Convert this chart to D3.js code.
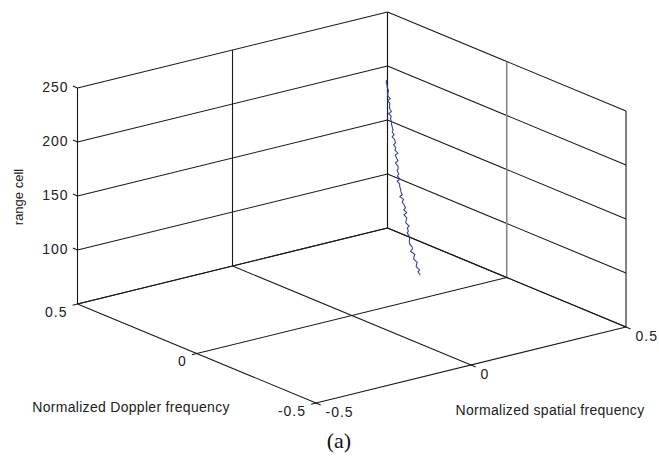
<!DOCTYPE html>
<html>
<head>
<meta charset="utf-8">
<script src="https://cdn.jsdelivr.net/npm/d3@7/dist/d3.min.js"></script>
<style>
  html, body { margin: 0; padding: 0; background: #fff; }
  svg { display: block; }
  .lbl { font-family: "Liberation Sans", Arial, Helvetica, sans-serif; font-size: 14px; fill: #222; }
  .tick { letter-spacing: 1px; }
</style>
</head>
<body>
<svg id="chart" width="659" height="458"></svg>
<script>
// ---------------- data ----------------
const rangeCells = [100,102,104,106,108,110,112,114,116,118,120,122,124,126,128,130,132,134,136,138,
  140,142,144,146,148,150,152,154,156,158,160,162,164,166,168,170,172,174,176,178,
  180,182,184,186,188,190,192,194,196,198,200,202,204,206,208,210,212,214,216,218,
  220,222,224,226,228,230,232,234,236,238,240,242,244,246,248,250];
const spatialFreq = [.0735,.0719,.0753,.0737,.0721,.0755,.0739,.0755,.0781,.0747,.0783,.0778,.0774,.0815,.0798,.0831,.0833,.0826,.0869,.0892,
  .0877,.0901,.0925,.0910,.0964,.0948,.0967,.0986,.0975,.1014,.0983,.1012,.1033,.1025,.1068,.1061,.1053,.1096,.1090,.1127,
  .1135,.1172,.1159,.1166,.1214,.1221,.1226,.1269,.1253,.1286,.1269,.1303,.1336,.1320,.1353,.1356,.1350,.1393,.1416,.1400,
  .1423,.1450,.1436,.1482,.1478,.1525,.1521,.1527,.1563,.1548,.1593,.1598,.1633,.1618,.1643,.1667];
const dopplerFreq = [-.1920,-.1839,-.1867,-.1746,-.1774,-.1763,-.1642,-.1622,-.1632,-.1493,-.1523,-.1523,-.1413,-.1357,-.1392,-.1327,-.1242,-.1297,-.1203,-.1248,
  -.1125,-.1112,-.1108,-.1005,-.1051,-.0948,-.1001,-.0913,-.0846,-.0859,-.0741,-.0804,-.0717,-.0722,-.0617,-.0633,-.0538,-.0603,-.0500,-.0508,
  -.0427,-.0426,-.0435,-.0313,-.0362,-.0291,-.0228,-.0284,-.0180,-.0176,-.0102,-.0138,-.0064,.0020,-.0016,.0068,.0022,.0116,.0180,.0144,
  .0228,.0230,.0322,.0264,.0336,.0398,.0380,.0472,.0415,.0508,.0552,.0535,.0638,.0621,.0694,.0697];

const zTicks = [100, 150, 200, 250];
const zTickLabels = ["100", "150", "200", "250"];
const spatialTicks = [-0.5, 0, 0.5];
const spatialTickLabels = ["-0.5", "0", "0.5"];
const dopplerTicks = [0.5, 0, -0.5];
const dopplerTickLabels = ["0.5", "0", "-0.5"];
const zDomain = [50, 250];

// ---------------- projection ----------------
const sScale = d3.scaleLinear().domain([-0.5, 0.5]).range([0, 1]);   // spatial
const dScale = d3.scaleLinear().domain([0.5, -0.5]).range([0, 1]);   // doppler
const zScale = d3.scaleLinear().domain(zDomain).range([0, 1]);       // range cell

const origin = [77.5, 304];
const eS = [310, -76];
const eD = [238.5, 99];
const eZ = [0, -216];

function proj(s, d, z) {
  const u = sScale(s), v = dScale(d), w = zScale(z);
  return [origin[0] + u * eS[0] + v * eD[0] + w * eZ[0],
          origin[1] + u * eS[1] + v * eD[1] + w * eZ[1]];
}

const svg = d3.select("#chart");
const g = svg.append("g");
const zMin = zDomain[0], zMax = zDomain[1];
const sMin = -0.5, sMax = 0.5, dBack = 0.5, dFront = -0.5;

function seg(a, b, color, width) {
  g.append("line")
    .attr("x1", a[0]).attr("y1", a[1]).attr("x2", b[0]).attr("y2", b[1])
    .attr("stroke", color || "#1a1a1a").attr("stroke-width", width || 1.1);
}

// Left wall (doppler = 0.5)
[zMin, ...zTicks].forEach(z => seg(proj(sMin, dBack, z), proj(sMax, dBack, z)));
spatialTicks.forEach(s => seg(proj(s, dBack, zMin), proj(s, dBack, zMax)));
// Right wall (spatial = 0.5)
[zMin, ...zTicks].forEach(z => seg(proj(sMax, dBack, z), proj(sMax, dFront, z)));
dopplerTicks.forEach(d => {
  const mid = d === 0;
  seg(proj(sMax, d, zMin), proj(sMax, d, zMax), mid ? "#888" : "#1a1a1a", mid ? 1.6 : 1.1);
});
// Floor
spatialTicks.forEach(s => seg(proj(s, dBack, zMin), proj(s, dFront, zMin)));
dopplerTicks.forEach(d => seg(proj(sMin, d, zMin), proj(sMax, d, zMin)));

// Tick marks
const tl = 5;
function unit(v) { const n = Math.hypot(v[0], v[1]); return [v[0] / n, v[1] / n]; }
const uD = unit(eD), uS = unit(eS);
zTicks.forEach(z => { const p = proj(sMin, dBack, z); seg(p, [p[0] - uD[0] * tl, p[1] - uD[1] * tl]); });
dopplerTicks.forEach(d => { const p = proj(sMin, d, zMin); seg(p, [p[0] - uS[0] * tl, p[1] - uS[1] * tl]); });
spatialTicks.forEach(s => { const p = proj(s, dFront, zMin); seg(p, [p[0] + uD[0] * tl, p[1] + uD[1] * tl]); });

// Tick labels
zTicks.forEach((z, i) => {
  const p = proj(sMin, dBack, z);
  g.append("text").attr("class", "lbl tick").attr("x", p[0] - 9).attr("y", p[1])
    .attr("text-anchor", "end").attr("dominant-baseline", "middle").text(zTickLabels[i]);
});
dopplerTicks.forEach((d, i) => {
  const p = proj(sMin, d, zMin);
  g.append("text").attr("class", "lbl tick").attr("x", p[0] - 10).attr("y", p[1] + 9)
    .attr("text-anchor", "end").attr("dominant-baseline", "middle").text(dopplerTickLabels[i]);
});
spatialTicks.forEach((s, i) => {
  const p = proj(s, dFront, zMin);
  g.append("text").attr("class", "lbl tick").attr("x", p[0] + 9.5).attr("y", p[1] + 10.5)
    .attr("text-anchor", "start").attr("dominant-baseline", "middle").text(spatialTickLabels[i]);
});

// Axis labels
g.append("text").attr("class", "lbl").attr("x", 131).attr("y", 408)
  .attr("text-anchor", "middle").attr("dominant-baseline", "middle")
  .style("letter-spacing", "0.3px").text("Normalized Doppler frequency");
g.append("text").attr("class", "lbl").attr("x", 550).attr("y", 411)
  .attr("text-anchor", "middle").attr("dominant-baseline", "middle")
  .style("letter-spacing", "0.3px").text("Normalized spatial frequency");
g.append("text").attr("class", "lbl")
  .attr("transform", "translate(20,197) rotate(-90)")
  .attr("text-anchor", "middle").attr("dominant-baseline", "middle")
  .style("font-size", "13px").text("range cell");

// Caption
svg.append("text").attr("x", 339).attr("y", 448)
  .attr("text-anchor", "middle")
  .style("font-family", "'Liberation Serif', 'Times New Roman', serif")
  .style("font-size", "22px").style("fill", "#111").text("(a)");

// Data line
const pts = rangeCells.map((z, i) => proj(spatialFreq[i], dopplerFreq[i], z));
g.append("path")
  .attr("d", d3.line()(pts))
  .attr("fill", "none").attr("stroke", "#3344aa").attr("stroke-width", 1.1);
</script>
</body>
</html>
